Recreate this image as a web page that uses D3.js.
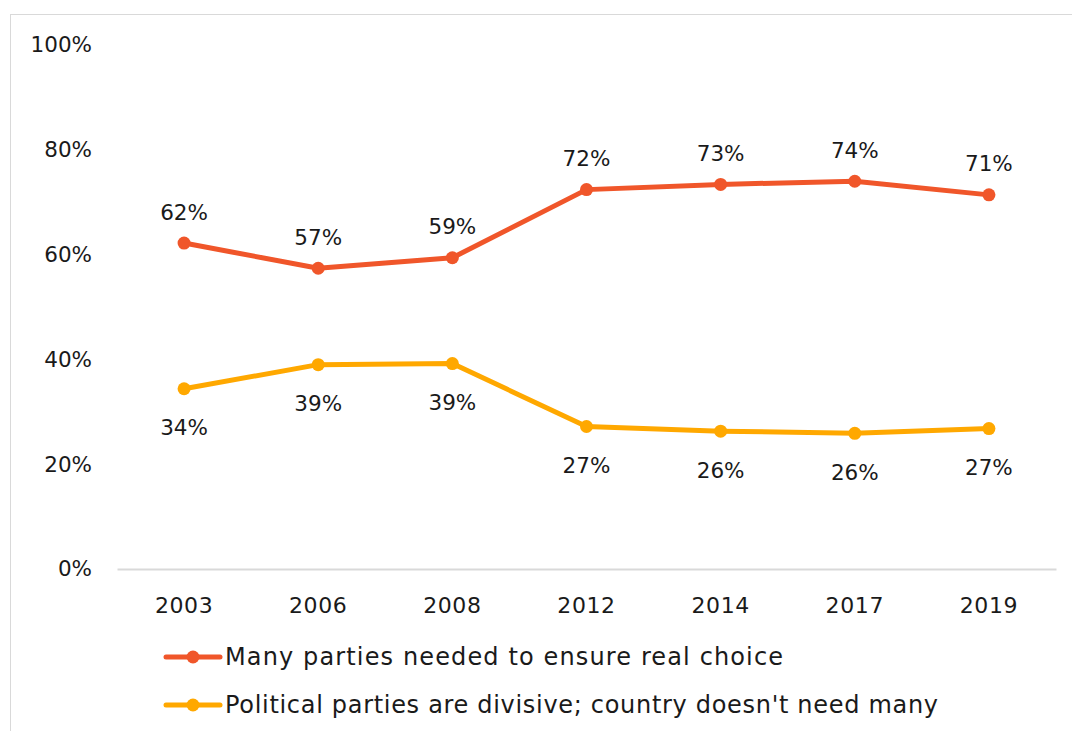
<!DOCTYPE html>
<html>
<head>
<meta charset="utf-8">
<script src="https://cdn.jsdelivr.net/npm/d3@7"></script>
<style>
  html, body { margin: 0; padding: 0; background: #fff; }
  svg { display: block; }
  text { font-family: "DejaVu Sans", sans-serif; fill: #1a1a1a; }
</style>
</head>
<body>
<svg id="chart" width="1072" height="731"></svg>
<script>
// Survey years
const years = ["2003", "2006", "2008", "2012", "2014", "2017", "2019"];

// Share agreeing with each statement (%)
const manyParties = [62.2, 57.4, 59.4, 72.4, 73.4, 74.0, 71.4];
const divisive    = [34.4, 39.0, 39.2, 27.2, 26.3, 25.9, 26.8];

const seriesNames = [
  "Many parties needed to ensure real choice",
  "Political parties are divisive; country doesn't need many"
];
const yTicks = [0, 20, 40, 60, 80, 100];

const colors = ["#F0562A", "#FFA800"];

const svg = d3.select("#chart");

// outer frame
svg.append("rect")
  .attr("x", 10.5).attr("y", 14.5)
  .attr("width", 1080).attr("height", 760)
  .attr("fill", "none").attr("stroke", "#d9d9d9").attr("stroke-width", 1);

const x = d3.scaleBand().domain(years).range([117, 1056]);
const y = d3.scaleLinear().domain([0, 100]).range([569, 45]);

// y axis labels
const yAxis = d3.axisLeft(y).tickValues(yTicks).tickFormat(d => d + "%").tickSize(0).tickPadding(0);
const gy = svg.append("g").attr("transform", "translate(92,0)").call(yAxis);
gy.select(".domain").remove();
gy.selectAll("text").attr("font-size", 21.5).attr("font-family", "DejaVu Sans").attr("fill", "#1a1a1a");

// x axis
const xAxis = d3.axisBottom(x).tickSize(0).tickPadding(28);
const gx = svg.append("g").attr("transform", `translate(0,${y(0)})`).call(xAxis);
gx.select(".domain").attr("stroke", "#d9d9d9").attr("stroke-width", 2);
gx.selectAll("text").attr("font-size", 22).attr("font-family", "DejaVu Sans")
  .attr("fill", "#1a1a1a").attr("letter-spacing", 0.6);

const cx = d => x(d) + x.bandwidth() / 2;
const line = d3.line().x(d => cx(d.year)).y(d => y(d.v));

const series = [manyParties, divisive].map((vals, i) => ({
  name: seriesNames[i],
  color: colors[i],
  pts: years.map((yr, j) => ({ year: yr, v: vals[j] }))
}));

series.forEach((s, i) => {
  svg.append("path")
    .datum(s.pts)
    .attr("d", line)
    .attr("fill", "none")
    .attr("stroke", s.color)
    .attr("stroke-width", 5)
    .attr("stroke-linejoin", "round");
  svg.selectAll(null).data(s.pts).enter().append("circle")
    .attr("cx", d => cx(d.year)).attr("cy", d => y(d.v))
    .attr("r", 6.5).attr("fill", s.color);
  svg.selectAll(null).data(s.pts).enter().append("text")
    .attr("x", d => cx(d.year))
    .attr("y", d => i === 0 ? y(d.v) - 31 : y(d.v) + 39)
    .attr("text-anchor", "middle")
    .attr("dominant-baseline", "central")
    .attr("font-size", 21.5)
    .text(d => Math.round(d.v) + "%");
});

// legend
const legendWidths = [558, 713];
series.forEach((s, i) => {
  const ly = 657 + i * 48;
  const g = svg.append("g");
  g.append("line").attr("x1", 166).attr("x2", 220).attr("y1", ly).attr("y2", ly)
    .attr("stroke", s.color).attr("stroke-width", 5).attr("stroke-linecap", "round");
  g.append("circle").attr("cx", 193).attr("cy", ly).attr("r", 6.5).attr("fill", s.color);
  g.append("text").attr("x", 225).attr("y", ly).attr("dominant-baseline", "central")
    .attr("font-size", 24)
    .attr("textLength", legendWidths[i]).attr("lengthAdjust", "spacing")
    .text(s.name);
});
</script>
</body>
</html>
